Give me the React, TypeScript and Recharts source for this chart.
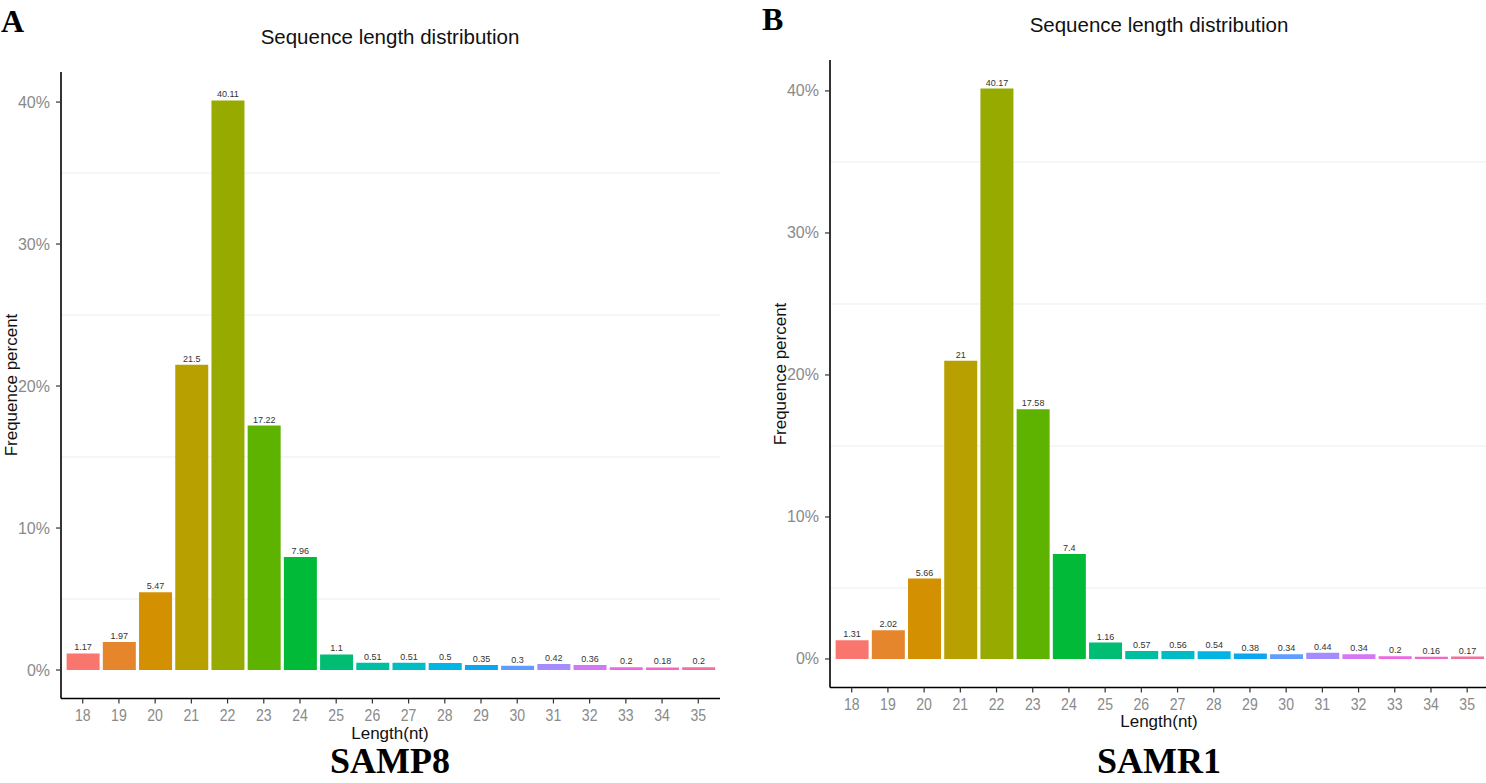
import React from "react";
import { BarChart, Bar, XAxis, YAxis, Cell, LabelList, CartesianGrid } from "recharts";

const lengths = [18, 19, 20, 21, 22, 23, 24, 25, 26, 27, 28, 29, 30, 31, 32, 33, 34, 35];
const samp8 = [1.17, 1.97, 5.47, 21.5, 40.11, 17.22, 7.96, 1.1, 0.51, 0.51, 0.5, 0.35, 0.3, 0.42, 0.36, 0.2, 0.18, 0.2];
const samr1 = [1.31, 2.02, 5.66, 21, 40.17, 17.58, 7.4, 1.16, 0.57, 0.56, 0.54, 0.38, 0.34, 0.44, 0.34, 0.2, 0.16, 0.17];
const colors = [
  "#F8766D", "#E6862C", "#D39000", "#B8A000", "#97AA00", "#5DB300",
  "#00BA38", "#00BD73", "#00BEA0", "#00BCC4", "#00B4E4", "#0AA6F2",
  "#619CFF", "#A48BFF", "#D477F5", "#EE68E2", "#F466C4", "#F2709C",
];
const yTicks = [0, 10, 20, 30, 40];
const minorGrid = [5, 15, 25, 35];

const FONT = "'Liberation Sans', Arial, sans-serif";
const SERIF = "'Liberation Serif', 'Times New Roman', serif";

const dataA = lengths.map((len, i) => ({ len, v: samp8[i] }));
const dataB = lengths.map((len, i) => ({ len, v: samr1[i] }));

const XTick = (props: any) => {
  const { x, y, payload } = props;
  return (
    <text x={x} y={y + 16} textAnchor="middle" fill="#8a8a8a" fontSize={16} fontFamily={FONT}
      transform={`translate(${x},0) scale(0.88,1) translate(${-x},0)`}>
      {payload.value}
    </text>
  );
};

const YTick = (props: any) => {
  const { x, y, payload } = props;
  return (
    <text x={x} y={y + 5.5} textAnchor="end" fill="#8a8a8a" fontSize={16} fontFamily={FONT}>
      {`${payload.value}%`}
    </text>
  );
};

function Panel({ data, domainY, domainX, width, height, margin }: any) {
  return (
    <BarChart width={width} height={height} data={data} margin={margin}>
      <CartesianGrid vertical={false} horizontalValues={minorGrid} stroke="#EDEDED" strokeWidth={1} />
      <XAxis
        dataKey="len"
        type="number"
        domain={domainX}
        ticks={lengths}
        allowDataOverflow
        height={30}
        tickSize={5}
        tickLine={{ stroke: "#333", strokeWidth: 1.2 }}
        axisLine={{ stroke: "#000", strokeWidth: 1.6 }}
        tick={<XTick />}
        interval={0}
      />
      <YAxis
        type="number"
        domain={domainY}
        ticks={yTicks}
        allowDataOverflow
        width={61}
        tickSize={5}
        tickMargin={6}
        tickLine={{ stroke: "#333", strokeWidth: 1.2 }}
        axisLine={{ stroke: "#000", strokeWidth: 1.6 }}
        tick={<YTick />}
      />
      <Bar dataKey="v" barSize={33} isAnimationActive={false}>
        {data.map((_: any, i: number) => (
          <Cell key={i} fill={colors[i]} />
        ))}
        <LabelList dataKey="v" position="top" offset={3} fontSize={9} fill="#333" fontFamily={FONT} />
      </Bar>
    </BarChart>
  );
}

const abs = (s: React.CSSProperties): React.CSSProperties => ({ position: "absolute", ...s });

const yTitle: React.CSSProperties = {
  transform: "translate(-50%,-50%) rotate(-90deg)",
  whiteSpace: "nowrap",
  fontFamily: FONT,
  fontSize: 17,
  color: "#111",
  position: "absolute",
  left: 0,
  top: 0,
  transformOrigin: "center",
};

export default function App() {
  return (
    <div style={{ position: "absolute", left: 0, top: 0, width: 1486, height: 783, background: "#fff", overflow: "hidden" }}>
      <div style={abs({ left: 0, top: 0 })}>
        <Panel
          data={dataA}
          width={740}
          height={783}
          margin={{ top: 72, right: 20, bottom: 54.5, left: 0 }}
          domainY={[-2.0055, 42.1155]}
          domainX={[17.4, 35.6]}
        />
      </div>
      <div style={abs({ left: 769, top: 0 })}>
        <Panel
          data={dataB}
          width={717}
          height={783}
          margin={{ top: 60, right: 0, bottom: 65.5, left: 0 }}
          domainY={[-2.0085, 42.1785]}
          domainX={[17.4, 35.52]}
        />
      </div>

      {/* Panel letters */}
      <div style={abs({ left: 1, top: 4, fontFamily: SERIF, fontWeight: "bold", fontSize: 32, lineHeight: "34px" })}>A</div>
      <div style={abs({ left: 762, top: 2, fontFamily: SERIF, fontWeight: "bold", fontSize: 32, lineHeight: "34px" })}>B</div>

      {/* Titles */}
      <div style={abs({ left: 190, width: 400, top: 25, textAlign: "center", fontFamily: FONT, fontSize: 20.5, lineHeight: "24px", color: "#111" })}>
        Sequence length distribution
      </div>
      <div style={abs({ left: 959, width: 400, top: 13, textAlign: "center", fontFamily: FONT, fontSize: 20.5, lineHeight: "24px", color: "#111" })}>
        Sequence length distribution
      </div>

      {/* Y axis titles */}
      <div style={abs({ left: 12, top: 385, width: 0, height: 0 })}>
        <div style={yTitle}>Frequence percent</div>
      </div>
      <div style={abs({ left: 781, top: 374, width: 0, height: 0 })}>
        <div style={yTitle}>Frequence percent</div>
      </div>

      {/* X axis titles */}
      <div style={abs({ left: 290, width: 200, top: 724, textAlign: "center", fontFamily: FONT, fontSize: 17, lineHeight: "20px", color: "#111" })}>
        Length(nt)
      </div>
      <div style={abs({ left: 1059, width: 200, top: 712, textAlign: "center", fontFamily: FONT, fontSize: 17, lineHeight: "20px", color: "#111" })}>
        Length(nt)
      </div>

      {/* Sample labels */}
      <div style={abs({ left: 240, width: 300, top: 746, height: 30, textAlign: "center", fontFamily: SERIF, fontWeight: "bold", fontSize: 36, lineHeight: "30px", color: "#000" })}>
        SAMP8
      </div>
      <div style={abs({ left: 1009, width: 300, top: 746, height: 30, textAlign: "center", fontFamily: SERIF, fontWeight: "bold", fontSize: 36, lineHeight: "30px", color: "#000" })}>
        SAMR1
      </div>
    </div>
  );
}
